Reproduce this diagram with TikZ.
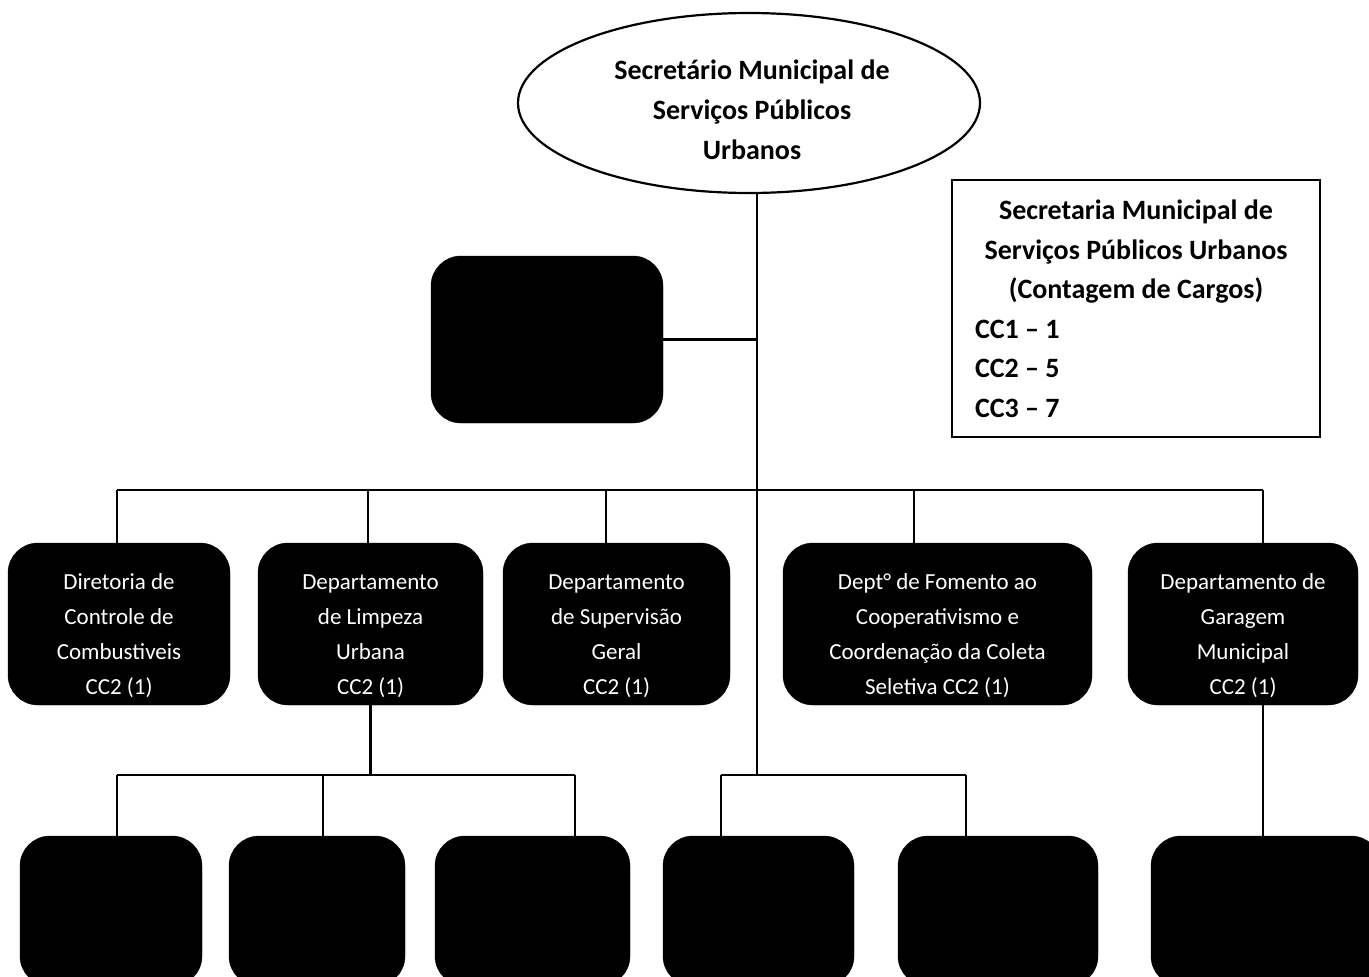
\documentclass[tikz,border=0pt]{standalone}
\usepackage{fontspec}
\setmainfont{Carlito}
\usetikzlibrary{shapes.geometric,calc}
\begin{document}
\begin{tikzpicture}[x=1pt,y=-1pt,
  ln/.style={line width=2.2pt, draw=black},
  blk/.style={fill=black, draw=black, rounded corners=30pt, inner sep=0pt},
  wtxt/.style={text=white, align=center, inner sep=0pt, font=\fontsize{23}{35}\selectfont},
]
\useasboundingbox (0,0) rectangle (1369,977);
\clip (0,0) rectangle (1369,977);
\fill[white] (0,0) rectangle (1369,977);

% top ellipse
\node[ellipse, draw, line width=2.2pt, minimum width=462pt, minimum height=180pt, inner sep=0pt] (top) at (749,103) {};
\node[align=center, inner sep=0pt, font=\bfseries\fontsize{28}{40}\selectfont] (topt) at (752,110) {Secretário Municipal de\\Serviços Públicos\\Urbanos};

% legend
\node[draw, line width=2.4pt, minimum width=368pt, minimum height=257pt, inner sep=0pt] (leg) at (1136,308.5) {};
\node[align=center, inner sep=0pt, font=\bfseries\fontsize{28}{39.5}\selectfont] (legt) at (1136,309) {Secretaria Municipal de\\Serviços Públicos Urbanos\\(Contagem de Cargos)\\\makebox[322pt][l]{CC1 -- 1}\\\makebox[322pt][l]{CC2 -- 5}\\\makebox[322pt][l]{CC3 -- 7}};

% small box
\node[blk, minimum width=232pt, minimum height=167pt] (sb) at (547,339.5) {};

% middle row
\node[blk, minimum width=222pt, minimum height=162pt] (b1) at (119,624) {};
\node[blk, minimum width=225pt, minimum height=162pt] (b2) at (370.5,624) {};
\node[blk, minimum width=227pt, minimum height=162pt] (b3) at (616.5,624) {};
\node[blk, minimum width=309pt, minimum height=162pt] (b4) at (937.5,624) {};
\node[blk, minimum width=230pt, minimum height=162pt] (b5) at (1243,624) {};
\node[wtxt] (b1t) at (119,636) {Diretoria de\\Controle de\\Combustiveis\\CC2 (1)};
\node[wtxt] (b2t) at (370.5,636) {Departamento\\de Limpeza\\Urbana\\CC2 (1)};
\node[wtxt] (b3t) at (616.5,636) {Departamento\\de Supervisão\\Geral\\CC2 (1)};
\node[wtxt] (b4t) at (937.5,636) {Dept° de Fomento ao\\Cooperativismo e\\Coordenação da Coleta\\Seletiva CC2 (1)};
\node[wtxt] (b5t) at (1243,636) {Departamento de\\Garagem\\Municipal\\CC2 (1)};

% bottom row
\node[blk, minimum width=182pt, minimum height=150pt] (bA) at (111,911) {};
\node[blk, minimum width=176pt, minimum height=150pt] (bB) at (317,911) {};
\node[blk, minimum width=195pt, minimum height=150pt] (bC) at (532.5,911) {};
\node[blk, minimum width=191pt, minimum height=150pt] (bD) at (758.5,911) {};
\node[blk, minimum width=200pt, minimum height=150pt] (bE) at (998,911) {};
\node[blk, minimum width=230pt, minimum height=150pt] (bF) at (1266,911) {};

% connectors
\coordinate (tb) at (757,775);
\draw[ln] (top.south -| tb) -- (tb);
\draw[ln] (sb.east) -- (sb.east -| tb);

\coordinate (m1) at (117,490);
\coordinate (m2) at (368,490);
\coordinate (m3) at (606,490);
\coordinate (m4) at (914,490);
\coordinate (m5) at (1263,490);
\draw[ln] (m1) -- (m5);
\draw[ln] (m1) -- (m1 |- b1.north);
\draw[ln] (m2) -- (m2 |- b2.north);
\draw[ln] (m3) -- (m3 |- b3.north);
\draw[ln] (m4) -- (m4 |- b4.north);
\draw[ln] (m5) -- (m5 |- b5.north);

\coordinate (l1) at (117,775);
\coordinate (l2) at (323,775);
\coordinate (l3) at (575,775);
\draw[ln] (l1) -- (l3);
\draw[ln] (b2.south) -- (b2.south |- l1);
\draw[ln] (l1) -- (l1 |- bA.north);
\draw[ln] (l2) -- (l2 |- bB.north);
\draw[ln] (l3) -- (l3 |- bC.north);

\coordinate (r1) at (721,775);
\coordinate (r2) at (966,775);
\draw[ln] (r1) -- (r2);
\draw[ln] (r1) -- (r1 |- bD.north);
\draw[ln] (r2) -- (r2 |- bE.north);

\coordinate (f1) at (1263,775);
\draw[ln] (f1 |- b5.south) -- (f1 |- bF.north);
\end{tikzpicture}
\end{document}
